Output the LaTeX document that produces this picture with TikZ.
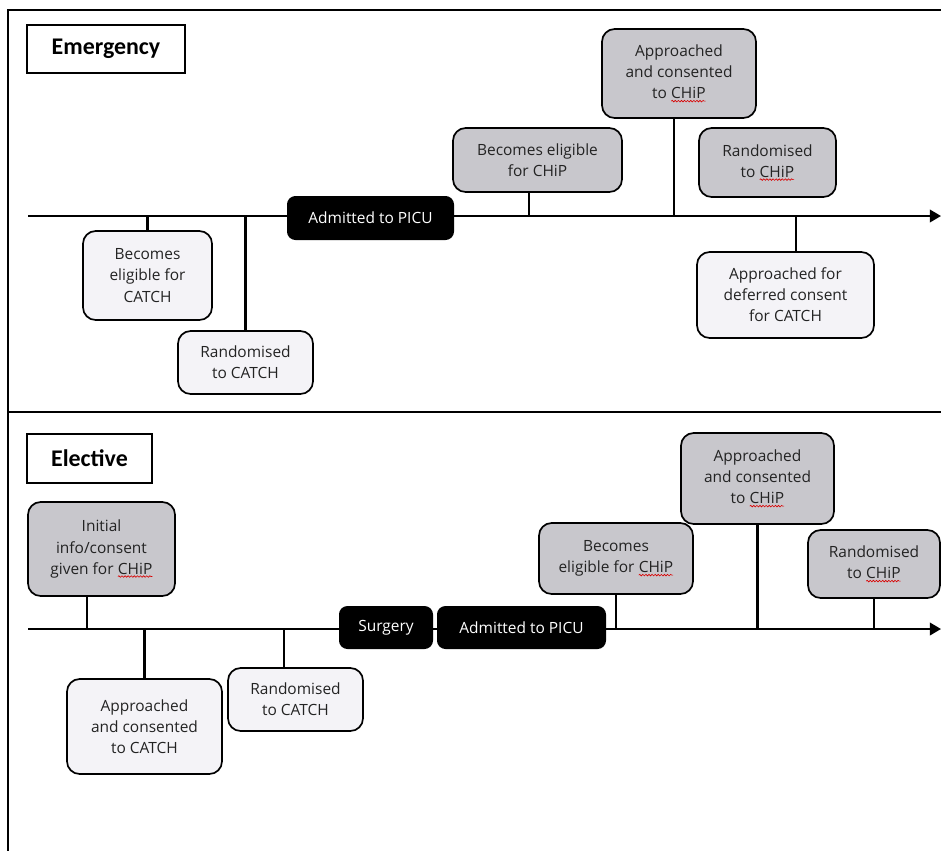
\documentclass[tikz,border=0pt]{standalone}
\usepackage{fontspec}
\setmainfont{Open Sans}
\newfontfamily\headfont{Carlito}
\usetikzlibrary{arrows.meta, decorations.pathmorphing}
\definecolor{chipgray}{RGB}{200,199,204}
\definecolor{catchwhite}{RGB}{244,243,247}
\definecolor{boxtext}{RGB}{35,35,35}
\newcommand{\wavy}[1]{\tikz[baseline=(w.base)]{\node[inner sep=0pt, outer sep=0pt, draw=none, fill=none, minimum width=0pt, minimum height=0pt, rounded corners=0pt](w){#1};
    \draw[red!85!black, line width=0.45pt, rounded corners=0pt, decorate, decoration={snake, amplitude=0.55pt, segment length=2.2pt}] ([yshift=-1.6pt]w.south west) -- ([yshift=-1.6pt]w.south east);}}

\begin{document}
\begin{tikzpicture}[x=0.025cm, y=-0.025cm,
    sz/.style 2 args={minimum width=#1*0.025cm, minimum height=#2*0.025cm},
    event/.style={draw, line width=1.2pt, rounded corners=9pt, align=center, inner sep=2pt, text=boxtext, font=\fontsize{11}{15}\selectfont},
    chipbox/.style={event, fill=chipgray},
    catchbox/.style={event, fill=catchwhite},
    stagebox/.style={fill=black, text=white, rounded corners=6pt, inner sep=2pt, font=\fontsize{11}{15}\selectfont},
    headbox/.style={draw, line width=1.2pt, font=\headfont\bfseries\fontsize{17}{20}\selectfont},
    link/.style={line width=1.5pt},
    timeline/.style={line width=1.5pt, -{Triangle[length=8pt, width=9pt]}}]

    \useasboundingbox (0,0) rectangle (941,851);
    \draw[line width=1.4pt] (941,10) -- (8,10) -- (8,851);
    \draw[line width=1.4pt] (8,412) -- (941,412);

    \coordinate (estart) at (28,216);
    \coordinate (eend) at (941,216);
    \coordinate (lstart) at (28,629);
    \coordinate (lend) at (941,629);
    \draw[timeline] (estart) -- (eend);
    \draw[timeline] (lstart) -- (lend);

    \node[headbox, sz={158}{48}] (elabel) at (106,49) {Emergency};
    \node[stagebox, sz={167}{44}] (epicu) at (370.5,218) {Admitted to PICU};
    \node[catchbox, sz={129}{89}] (ecatchelig) at (147.5,275.5) {Becomes\\eligible for\\CATCH};
    \node[catchbox, sz={135}{63}] (ecatchrand) at (245.5,362.5) {Randomised\\to CATCH};
    \node[chipbox, sz={169}{64}] (echipelig) at (537.5,160) {Becomes eligible\\for CHiP};
    \node[chipbox, sz={154}{89}] (echipcons) at (679,73.5) {Approached\\and consented\\to \wavy{CHiP}};
    \node[chipbox, sz={137}{69}] (echiprand) at (767.5,162.5) {Randomised\\to \wavy{CHiP}};
    \node[catchbox, sz={177}{86}] (edeferred) at (785.5,295) {Approached for\\deferred consent\\for CATCH};

    \draw[link] (ecatchelig.north) -- (ecatchelig.north |- estart);
    \draw[link] (ecatchrand.north) -- (ecatchrand.north |- estart);
    \draw[link] ([xshift=-0.21cm]echipelig.south) -- ([xshift=-0.21cm]echipelig.south |- estart);
    \draw[link] ([xshift=-0.12cm]echipcons.south) -- ([xshift=-0.12cm]echipcons.south |- estart);
    \draw[link] ([xshift=0.26cm]edeferred.north) -- ([xshift=0.26cm]edeferred.north |- estart);

    \node[headbox, sz={125}{49}] (llabel) at (89.5,458.5) {Elective};
    \node[stagebox, sz={94}{43}] (lsurgery) at (386,627.5) {Surgery};
    \node[stagebox, sz={169}{43}] (lpicu) at (521.5,627.5) {Admitted to PICU};
    \node[chipbox, sz={147}{94}] (lchipinit) at (101.5,549) {Initial\\info/consent\\given for \wavy{CHiP}};
    \node[catchbox, sz={155}{95}] (lcatchcons) at (144.5,726.5) {Approached\\and consented\\to CATCH};
    \node[catchbox, sz={135}{63}] (lcatchrand) at (295.5,699.5) {Randomised\\to CATCH};
    \node[chipbox, sz={154}{71}] (lchipelig) at (616,558.5) {Becomes\\eligible for \wavy{CHiP}};
    \node[chipbox, sz={153}{91}] (lchipcons) at (757.5,478.5) {Approached\\and consented\\to \wavy{CHiP}};
    \node[chipbox, sz={132}{68}] (lchiprand) at (874,564) {Randomised\\to \wavy{CHiP}};

    \draw[link] ([xshift=-0.36cm]lchipinit.south) -- ([xshift=-0.36cm]lchipinit.south |- lstart);
    \draw[link] (lcatchcons.north) -- (lcatchcons.north |- lstart);
    \draw[link] ([xshift=-0.29cm]lcatchrand.north) -- ([xshift=-0.29cm]lcatchrand.north |- lstart);
    \draw[link] (lchipelig.south) -- (lchipelig.south |- lstart);
    \draw[link] (lchipcons.south) -- (lchipcons.south |- lstart);
    \draw[link] (lchiprand.south) -- (lchiprand.south |- lstart);
\end{tikzpicture}
\end{document}
